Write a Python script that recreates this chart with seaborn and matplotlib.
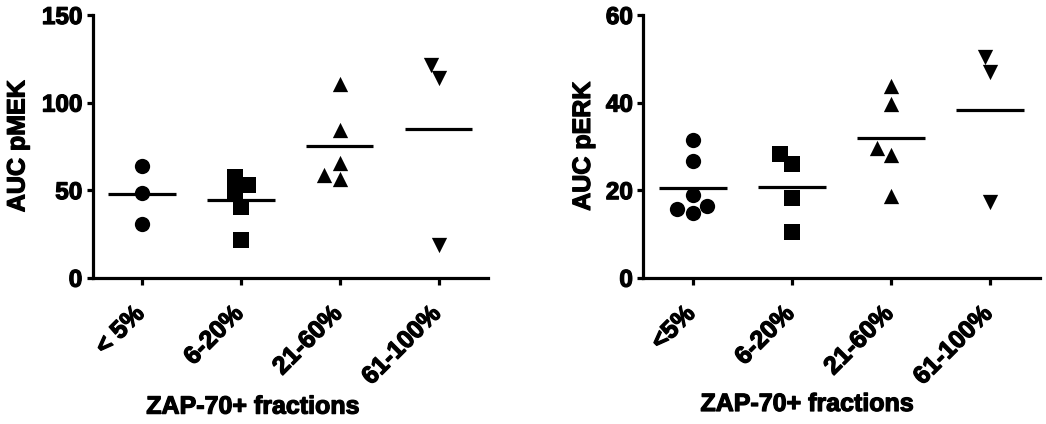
import numpy as np
import pandas as pd
import seaborn as sns
import matplotlib.pyplot as plt
import matplotlib.transforms as mtransforms
import matplotlib.patheffects as pe

# Grupos de fração ZAP-70+
grupos_mek = ["< 5%", "6-20%", "21-60%", "61-100%"]
grupos_erk = ["<5%", "6-20%", "21-60%", "61-100%"]
marcadores = ["o", "s", "^", "v"]

# AUC pMEK por grupo
pmek_lt5 = [63.8, 48.5, 30.6]
pmek_6_20 = [48.5, 52.9, 57.3, 40.5, 21.5]
pmek_21_60 = [110.6, 84.3, 65.3, 56.2, 58.6]
pmek_61_100 = [121.5, 113.8, 18.7]

# AUC pERK por grupo
perk_lt5 = [31.4, 26.6, 18.8, 16.3, 14.7, 15.6]
perk_6_20 = [26.0, 28.3, 18.2, 10.5]
perk_21_60 = [43.8, 39.6, 29.6, 28.0, 18.6]
perk_61_100 = [50.3, 47.0, 17.3]

sns.set_style("ticks")
plt.rcParams["font.family"] = ["Liberation Sans", "DejaVu Sans"]
plt.rcParams["font.weight"] = "bold"
plt.rcParams["axes.labelweight"] = "bold"
for k in ["text.color", "axes.labelcolor", "xtick.color", "ytick.color", "axes.edgecolor"]:
    plt.rcParams[k] = "black"

# contorno para deixar o texto mais pesado, como no original
grosso = [pe.withStroke(linewidth=0.9, foreground="black")]


def painel(ax, grupos, series, ylabel, ymax, yticks, xlab_pos, ylab_x):
    for i, vals in enumerate(series):
        df = pd.DataFrame({"grupo": [grupos[i]] * len(vals), "valor": vals})
        sns.swarmplot(data=df, x="grupo", y="valor", order=grupos,
                      marker=marcadores[i], color="black", size=11,
                      linewidth=0, ax=ax)
        ax.hlines(np.mean(vals), i - 0.34, i + 0.34, color="black", lw=2.3)

    ax.set_xlim(-0.5, 3.5)
    ax.set_ylim(0, ymax)
    ax.set_yticks(yticks)
    ax.set_ylabel(ylabel, fontsize=18, fontweight="bold", path_effects=grosso)
    ax.set_xlabel("ZAP-70+ fractions", fontsize=18, fontweight="bold",
                  path_effects=grosso)
    ax.xaxis.set_label_coords(*xlab_pos)
    ax.yaxis.set_label_coords(ylab_x, 0.5)

    sns.despine(ax=ax)
    for s in ["left", "bottom"]:
        ax.spines[s].set_linewidth(2.3)
    ax.tick_params(axis="y", length=4.5, width=2.3, pad=3, labelsize=17.5)
    ax.tick_params(axis="x", length=5, width=2.3, pad=12, labelsize=18)

    desloc = mtransforms.ScaledTranslation(5 / 72, 0, ax.figure.dpi_scale_trans)
    for rot in ax.get_xticklabels():
        rot.set_rotation(45)
        rot.set_ha("right")
        rot.set_va("top")
        rot.set_fontweight("bold")
        rot.set_path_effects(grosso)
        rot.set_transform(rot.get_transform() + desloc)
    for t in ax.get_yticklabels():
        t.set_fontweight("bold")
        t.set_path_effects(grosso)


fig = plt.figure(figsize=(10.46, 4.24), dpi=100)
ax1 = fig.add_axes([0.0886, 0.345, 0.378, 0.6196])
ax2 = fig.add_axes([0.615, 0.345, 0.379, 0.6196])

painel(ax1, grupos_mek, [pmek_lt5, pmek_6_20, pmek_21_60, pmek_61_100],
       "AUC pMEK", 150, [0, 50, 100, 150], (0.405, -0.445), -0.16)
painel(ax2, grupos_erk, [perk_lt5, perk_6_20, perk_21_60, perk_61_100],
       "AUC pERK", 60, [0, 20, 40, 60], (0.413, -0.435), -0.122)

fig.savefig("out.png", dpi=100)
